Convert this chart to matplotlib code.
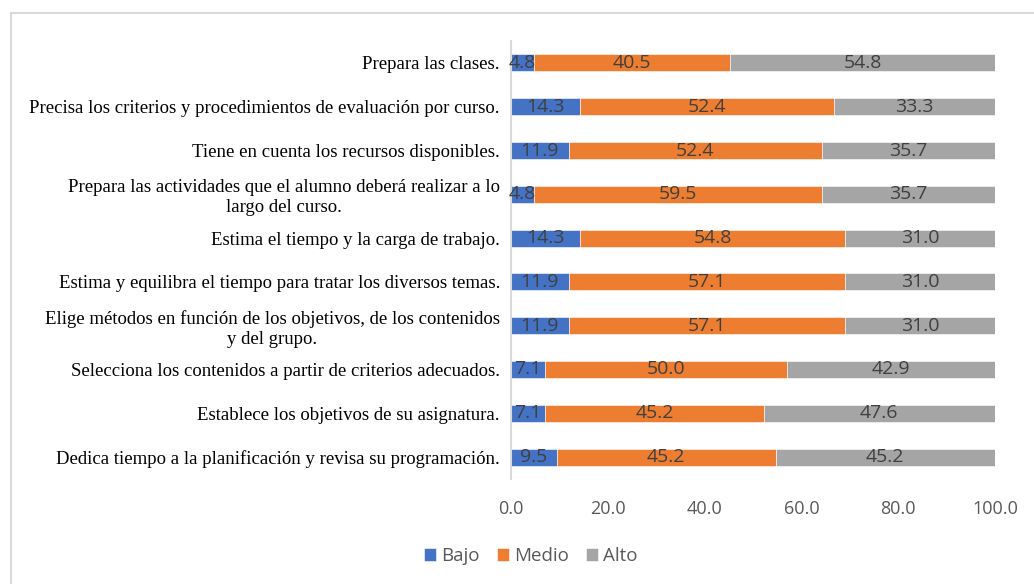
import matplotlib
matplotlib.use("Agg")
import matplotlib.pyplot as plt
from matplotlib.lines import Line2D
import numpy as np

categories = [
    "Prepara las clases.",
    "Precisa los criterios y procedimientos de evaluación por curso.",
    "Tiene en cuenta los recursos disponibles.",
    "Prepara las actividades que el alumno deberá realizar a lo\nlargo del curso.",
    "Estima el tiempo y la carga de trabajo.",
    "Estima y equilibra el tiempo para tratar los diversos temas.",
    "Elige métodos en función de los objetivos, de los contenidos\ny del grupo.",
    "Selecciona los contenidos a partir de criterios adecuados.",
    "Establece los objetivos de su asignatura.",
    "Dedica tiempo a la planificación y revisa su programación.",
]
bajo = [4.8, 14.3, 11.9, 4.8, 14.3, 11.9, 11.9, 7.1, 7.1, 9.5]
medio = [40.5, 52.4, 52.4, 59.5, 54.8, 57.1, 57.1, 50.0, 45.2, 45.2]
alto = [54.8, 33.3, 35.7, 35.7, 31.0, 31.0, 31.0, 42.9, 47.6, 45.2]
series_names = ["Bajo", "Medio", "Alto"]
colors = ["#4472C4", "#ED7D31", "#A5A5A5"]
xticks = [0, 20, 40, 60, 80, 100]

W, H = 1034, 584
fig = plt.figure(figsize=(W / 100, H / 100), dpi=100)
ax = fig.add_axes([511 / W, 1 - 479 / H, (995 - 511) / W, (479 - 41) / H])

n = len(categories)
y = np.arange(n)[::-1]
left = np.zeros(n)
sans = ["Open Sans", "DejaVu Sans"]
for vals, name, c in zip([bajo, medio, alto], series_names, colors):
    vals = np.array(vals)
    ax.barh(y, vals, left=left, height=0.39, color=c, label=name,
            edgecolor="white", linewidth=0.4)
    for yi, l, v in zip(y, left, vals):
        ax.text(l + v / 2, yi, f"{v:.1f}", ha="center", va="center",
                fontsize=14, color="#404040", family=sans)
    left = left + vals

ax.set_ylim(-0.5, n - 0.5)
ax.set_xlim(0, 100)
ax.set_yticks(y)
ax.set_yticklabels(categories, family=["Liberation Serif"], fontsize=13.5,
                   color="black", multialignment="center")
ax.set_xticks(xticks)
ax.set_xticklabels([f"{t:.1f}" for t in xticks], family=sans, fontsize=13,
                   color="#595959")
ax.tick_params(axis="y", length=0, pad=8)
ax.tick_params(axis="x", length=0, pad=15)
for s in ["top", "right", "bottom"]:
    ax.spines[s].set_visible(False)
ax.spines["left"].set_color("#d9d9d9")
ax.spines["left"].set_linewidth(1.5)

leg = fig.legend(loc="center", bbox_to_anchor=(531 / W, 1 - 556 / H), ncol=3,
                 frameon=False, prop={"family": sans, "size": 13.5},
                 handlelength=0.65, handleheight=0.65, handletextpad=0.28,
                 columnspacing=0.9)
for t in leg.get_texts():
    t.set_color("#595959")

# chart frame
fig.add_artist(Line2D([11 / W, 11 / W], [0, 1 - 13 / H], color="#d9d9d9", lw=1.5,
                      transform=fig.transFigure))
fig.add_artist(Line2D([11 / W, 1033 / W], [1 - 13 / H, 1 - 13 / H], color="#d9d9d9",
                      lw=1.5, transform=fig.transFigure))

fig.savefig("out.png", dpi=100, facecolor="white")
